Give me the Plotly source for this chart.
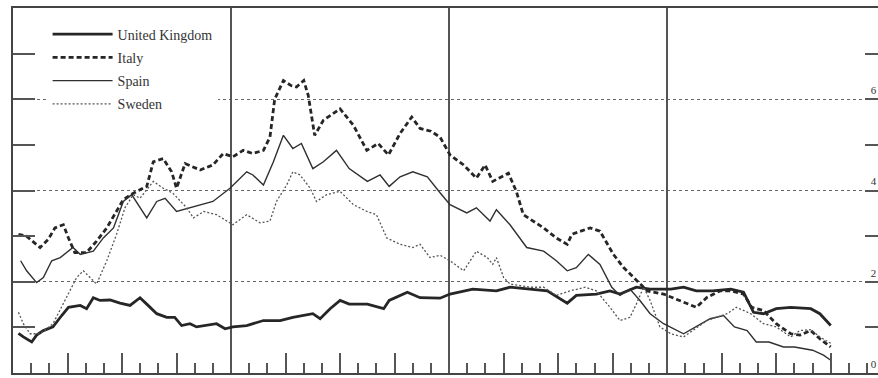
import plotly.graph_objects as go

# Months since start (x) and spread values (y)
uk_m = [0.3,0.57,1.03,1.3,1.67,2.2,2.68,3.05,3.7,4.05,4.42,4.79,5.34,5.89,6.44,6.99,7.36,7.91,8.46,8.9,9.28,9.74,10.1,10.66,11.2,11.67,12.1,12.86,13.78,14.7,15.4,16.5,16.9,17.45,18.0,18.5,19.5,20.4,20.7,21.7,22.4,23.5,24.05,25.3,26.6,27.35,28.45,29.4,30.5,31.0,32.1,32.85,33.4,34.3,35.06,36.2,36.9,37.6,38.5,39.5,40.2,40.75,41.3,42.0,42.8,43.9,44.4,45.0]
uk_v = [0.87,0.79,0.68,0.83,0.93,1.01,1.26,1.44,1.48,1.41,1.65,1.59,1.60,1.53,1.48,1.65,1.51,1.30,1.22,1.22,1.04,1.08,1.01,1.04,1.08,0.97,1.01,1.04,1.15,1.15,1.22,1.30,1.19,1.41,1.59,1.51,1.51,1.41,1.59,1.77,1.65,1.64,1.73,1.84,1.80,1.88,1.84,1.80,1.53,1.70,1.73,1.80,1.73,1.88,1.84,1.84,1.88,1.80,1.80,1.84,1.77,1.33,1.30,1.41,1.44,1.41,1.30,1.04]

it_m = [0.3,0.74,1.49,1.94,2.31,2.77,3.05,3.4,4.05,4.6,5.16,5.6,6.07,6.62,7.36,7.72,8.27,8.73,9.0,9.47,10.3,11.0,11.57,12.1,12.67,13.2,13.78,14.14,14.4,14.88,15.3,15.6,16.0,16.25,16.6,17.08,17.6,18.0,18.73,19.47,20.1,20.66,21.3,21.94,22.4,23.0,23.5,24.05,24.8,25.5,25.98,26.4,27.26,27.7,28.08,29.2,29.9,30.5,30.75,31.76,32.3,33.04,33.6,34.14,34.9,35.8,36.7,37.6,38.2,38.9,39.5,40.2,40.65,41.3,42.0,42.8,43.3,43.9,44.4,45.0]
it_v = [3.04,3.0,2.75,2.93,3.18,3.25,2.96,2.64,2.64,2.89,3.18,3.47,3.80,3.94,4.09,4.63,4.70,4.41,4.05,4.59,4.45,4.56,4.81,4.74,4.88,4.81,4.88,5.17,6.0,6.41,6.30,6.27,6.41,6.08,5.21,5.54,5.68,5.79,5.43,4.88,5.03,4.78,5.25,5.61,5.36,5.30,5.17,4.78,4.56,4.27,4.56,4.20,4.38,3.98,3.47,3.18,2.96,2.82,3.04,3.18,3.11,2.60,2.31,2.09,1.80,1.73,1.59,1.44,1.66,1.80,1.80,1.73,1.44,1.37,1.08,0.86,0.83,0.93,0.75,0.57]

es_m = [0.42,0.75,1.3,1.67,2.13,2.6,3.3,3.7,4.42,4.97,5.53,6.07,6.53,7.36,7.91,8.37,9.0,9.74,10.3,11.0,11.94,12.3,12.86,13.2,13.78,14.33,14.88,15.4,15.87,16.5,17.08,17.8,18.5,19.5,20.2,20.7,21.3,22.0,22.8,23.5,24.05,24.97,25.5,26.25,26.6,27.35,28.27,29.2,29.9,30.5,31.0,31.66,32.3,32.95,33.4,33.95,34.5,35.06,35.8,36.9,37.6,38.36,39.1,39.7,40.4,40.9,41.6,42.4,43.0,44.0,44.6,45.0]
es_v = [2.46,2.24,1.98,2.09,2.46,2.53,2.75,2.60,2.67,2.96,3.18,3.76,3.91,3.40,3.76,3.83,3.54,3.62,3.69,3.76,4.05,4.20,4.41,4.34,4.12,4.63,5.21,4.92,5.03,4.48,4.63,4.88,4.48,4.20,4.34,4.09,4.30,4.41,4.30,3.95,3.69,3.51,3.62,3.33,3.58,3.25,2.75,2.67,2.46,2.24,2.31,2.60,2.38,1.88,1.70,1.84,1.59,1.30,1.08,0.86,1.01,1.19,1.26,1.01,0.93,0.68,0.68,0.57,0.57,0.50,0.39,0.28]

se_m = [0.3,0.57,0.94,1.49,2.2,2.95,3.5,3.87,4.24,4.6,5.16,5.7,6.16,6.62,6.99,7.72,8.27,8.8,9.56,9.93,10.5,11.2,12.1,12.86,13.6,14.14,14.5,15.06,15.4,15.8,16.35,16.7,17.26,18.0,18.73,19.47,20.0,20.57,21.3,22.0,22.4,22.95,23.5,24.05,24.8,25.5,26.1,26.4,26.6,27.0,27.35,28.45,29.2,29.9,30.65,31.5,32.1,32.4,32.85,33.4,33.95,34.3,34.7,35.06,35.6,36.2,36.9,37.4,38.2,38.7,39.3,39.8,40.6,41.3,42.0,42.8,43.3,43.9,44.4,45.0]
se_v = [1.33,1.08,0.86,0.86,1.08,1.66,2.09,2.24,2.09,1.95,2.46,3.04,3.62,3.91,3.83,4.20,4.05,3.94,3.62,3.40,3.54,3.47,3.25,3.47,3.29,3.33,3.76,4.12,4.41,4.34,4.05,3.76,3.91,3.98,3.69,3.54,3.47,2.96,2.82,2.75,2.82,2.53,2.58,2.46,2.24,2.67,2.53,2.38,2.53,2.09,1.95,1.88,1.88,1.70,1.80,1.88,1.80,1.66,1.44,1.15,1.22,1.51,1.88,1.59,1.01,0.86,0.79,0.93,1.15,1.22,1.30,1.44,1.30,1.08,1.01,0.79,0.93,0.95,0.79,0.65]

# axis tick positions
y_label_vals = [0, 2, 4, 6]
y_label_text = ["0", "2", "4", "6"]
y_minor_vals = [1, 3, 5, 7]

series = [
    ("United Kingdom", uk_m, uk_v, dict(color="#262626", width=2.8)),
    ("Italy", it_m, it_v, dict(color="#262626", width=2.8, dash="5px,3px")),
    ("Spain", es_m, es_v, dict(color="#303030", width=1.4)),
    ("Sweden", se_m, se_v, dict(color="#555555", width=1.3, dash="2px,2px")),
]

fig = go.Figure()
for i, (name, xs, ys, ln) in enumerate(series):
    fig.add_trace(go.Scatter(x=xs, y=ys, mode="lines", name=name, line=ln,
                             legendgroup=f"g{i}", xaxis="x", yaxis="y"))

# invisible trace to activate the secondary axes
fig.add_trace(go.Scatter(x=[0], y=[0], xaxis="x2", yaxis="y2", mode="lines",
                         line=dict(width=0), showlegend=False, hoverinfo="skip"))

XR = [0, 47.6]
YR = [0, 8.0]
tick_style = dict(tickcolor="#555", tickwidth=1.5)
fig.update_layout(
    width=878, height=378,
    margin=dict(l=13, r=0, t=8, b=5, autoexpand=False),
    paper_bgcolor="white", plot_bgcolor="white",
    font=dict(family="Liberation Serif", color="#333"),
    showlegend=True,
    legend=dict(x=0.040, y=0.971, xanchor="left", yanchor="top",
                bgcolor="white", borderwidth=0, tracegroupgap=2,
                font=dict(size=14, family="Liberation Serif", color="#333"),
                itemwidth=60, traceorder="grouped"),
    xaxis=dict(range=XR, showgrid=False, zeroline=False, automargin=False,
               showline=True, mirror=True, linecolor="#444", linewidth=2,
               tick0=0, dtick=3, ticks="inside", ticklen=20, showticklabels=False,
               minor=dict(dtick=1, tick0=0, ticks="inside", ticklen=10, **tick_style),
               **tick_style),
    xaxis2=dict(range=XR, overlaying="x", showgrid=True, gridcolor="#555", gridwidth=1.5,
                tick0=0, dtick=12, ticks="", showticklabels=False, zeroline=False,
                showline=False, automargin=False),
    yaxis=dict(range=YR, showgrid=True, gridcolor="#666", gridwidth=1, griddash="3px,3px",
               tickmode="array", tickvals=y_label_vals, zeroline=False, automargin=False,
               showline=True, linecolor="#444", linewidth=1.5,
               ticks="inside", ticklen=22, showticklabels=False,
               minor=dict(tickmode="array", tickvals=y_minor_vals, ticks="inside", ticklen=22, **tick_style),
               **tick_style),
    yaxis2=dict(range=YR, overlaying="y", side="right", showgrid=False, zeroline=False,
                showline=False, automargin=False,
                tickmode="array", tickvals=y_label_vals, ticktext=y_label_text,
                ticks="inside", ticklen=13, ticklabelposition="inside",
                ticklabelstandoff=-12, ticklabelshift=-9,
                tickfont=dict(size=11, family="Liberation Serif", color="#333"),
                minor=dict(tickmode="array", tickvals=y_minor_vals, ticks="inside", ticklen=13, **tick_style),
                **tick_style),
)

fig.write_html("out.html", config={"displayModeBar": False},
               post_script="document.body.style.margin='0';")
